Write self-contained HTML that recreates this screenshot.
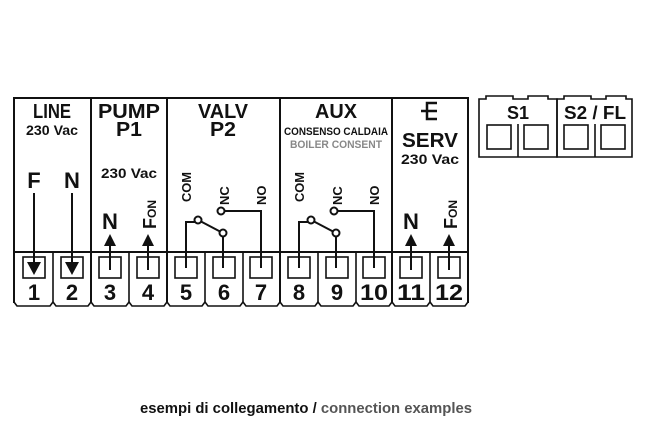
<!DOCTYPE html>
<html><head><meta charset="utf-8"><style>
body{margin:0;background:#fff}
svg{display:block}
text{font-family:"Liberation Sans",Arial,sans-serif;font-weight:bold;fill:#111}
</style></head><body>
<svg width="645" height="428" viewBox="0 0 645 428" xmlns="http://www.w3.org/2000/svg" font-family="Liberation Sans, Arial, sans-serif">
<g stroke="#111" stroke-width="2" fill="none">
<path d="M14,303 V98 H468 V303"/>
<line x1="91" y1="98" x2="91" y2="303"/>
<line x1="167" y1="98" x2="167" y2="303"/>
<line x1="280" y1="98" x2="280" y2="303"/>
<line x1="392" y1="98" x2="392" y2="303"/>
<line x1="14" y1="252" x2="468" y2="252"/>
</g>
<!-- labels -->
<text x="52" y="118" font-size="20" text-anchor="middle" textLength="38" lengthAdjust="spacingAndGlyphs">LINE</text>
<text x="52" y="135" font-size="14" text-anchor="middle" font-weight="normal" textLength="52" lengthAdjust="spacingAndGlyphs">230 Vac</text>
<text x="129" y="118" font-size="20" text-anchor="middle" textLength="62" lengthAdjust="spacingAndGlyphs">PUMP</text>
<text x="129" y="136" font-size="20" text-anchor="middle" textLength="26" lengthAdjust="spacingAndGlyphs">P1</text>
<text x="129" y="178" font-size="14" text-anchor="middle" font-weight="normal" textLength="56" lengthAdjust="spacingAndGlyphs">230 Vac</text>
<text x="223" y="118" font-size="20" text-anchor="middle" textLength="50" lengthAdjust="spacingAndGlyphs">VALV</text>
<text x="223" y="136" font-size="20" text-anchor="middle" textLength="26" lengthAdjust="spacingAndGlyphs">P2</text>
<text x="336" y="118" font-size="20" text-anchor="middle" textLength="42" lengthAdjust="spacingAndGlyphs">AUX</text>
<text x="336" y="135" font-size="11" text-anchor="middle" textLength="104" lengthAdjust="spacingAndGlyphs">CONSENSO CALDAIA</text>
<text x="336" y="148" font-size="11" text-anchor="middle" style="fill:#888" textLength="92" lengthAdjust="spacingAndGlyphs">BOILER CONSENT</text>
<text x="430" y="147" font-size="20" text-anchor="middle" font-weight="normal" textLength="56" lengthAdjust="spacingAndGlyphs">SERV</text>
<text x="430" y="164" font-size="14" text-anchor="middle" font-weight="normal" textLength="58" lengthAdjust="spacingAndGlyphs">230 Vac</text>
<!-- earth -->
<g stroke="#111" stroke-width="2.5" fill="none"><path d="M437,103 H427 V119 H437 M427,111 H437 M421,111 H427"/></g>
<text x="34" y="188" font-size="22" text-anchor="middle">F</text>
<text x="72" y="188" font-size="22" text-anchor="middle">N</text>
<text x="110" y="229" font-size="22" text-anchor="middle">N</text>
<text x="411" y="229" font-size="22" text-anchor="middle">N</text>
<g font-size="18">
<text transform="translate(156,229) rotate(-90)">F<tspan font-size="12">ON</tspan></text>
<text transform="translate(457,229) rotate(-90)">F<tspan font-size="12">ON</tspan></text>
</g>
<g font-size="13" font-weight="normal">
<text transform="translate(191,202) rotate(-90)" textLength="30" lengthAdjust="spacingAndGlyphs">COM</text>
<text transform="translate(229,205) rotate(-90)">NC</text>
<text transform="translate(266,205) rotate(-90)">NO</text>
<text transform="translate(304,202) rotate(-90)" textLength="30" lengthAdjust="spacingAndGlyphs">COM</text>
<text transform="translate(342,205) rotate(-90)">NC</text>
<text transform="translate(379,205) rotate(-90)">NO</text>
</g>
<!-- arrows -->
<g stroke="#111" stroke-width="2">
<line x1="34" y1="193" x2="34" y2="264"/>
<line x1="72" y1="193" x2="72" y2="264"/>
<line x1="110" y1="270" x2="110" y2="240"/>
<line x1="148" y1="270" x2="148" y2="240"/>
<line x1="411" y1="270" x2="411" y2="240"/>
<line x1="449" y1="270" x2="449" y2="240"/>
</g>
<g fill="#111">
<path d="M27,262 H41 L34,275 Z"/>
<path d="M65,262 H79 L72,275 Z"/>
<path d="M104,246 H116 L110,234 Z"/>
<path d="M142,246 H154 L148,234 Z"/>
<path d="M405,246 H417 L411,234 Z"/>
<path d="M443,246 H455 L449,234 Z"/>
</g>
<!-- relays -->
<g stroke="#111" stroke-width="2" fill="none">
<g id="r1">
<path d="M186,268 V222 H195"/>
<line x1="201" y1="221.5" x2="220" y2="231.5"/>
<path d="M223,236 V268"/>
<path d="M224,211 H261 V268"/>
<circle cx="198" cy="220" r="3.5" fill="#fff"/>
<circle cx="223" cy="233" r="3.5" fill="#fff"/>
<circle cx="221" cy="211" r="3.5" fill="#fff"/>
</g>
<use href="#r1" transform="translate(113,0)"/>
</g>
<!-- terminal cells -->
<g stroke="#111" stroke-width="1.6" fill="none">
<path d="M14,302 L17,306 H50 L53,302 L56,306 H88 L91,302 L94,306 H126 L129,302 L132,306 H164 L167,302 L170,306 H202 L205,302 L208,306 H240 L243,302 L246,306 H277 L280,302 L283,306 H315 L318,302 L321,306 H353 L356,302 L359,306 H389 L392,302 L395,306 H427 L430,302 L433,306 H465 L468,302"/>
<path d="M53,252 V302 M129,252 V302 M205,252 V302 M243,252 V302 M318,252 V302 M356,252 V302 M430,252 V302"/>
<rect x="23" y="257" width="22" height="21"/>
<rect x="61" y="257" width="22" height="21"/>
<rect x="99" y="257" width="22" height="21"/>
<rect x="137" y="257" width="22" height="21"/>
<rect x="175" y="257" width="22" height="21"/>
<rect x="213" y="257" width="22" height="21"/>
<rect x="250" y="257" width="22" height="21"/>
<rect x="288" y="257" width="22" height="21"/>
<rect x="326" y="257" width="22" height="21"/>
<rect x="363" y="257" width="22" height="21"/>
<rect x="400" y="257" width="22" height="21"/>
<rect x="438" y="257" width="22" height="21"/>
</g>
<g font-size="22" text-anchor="middle">
<text x="34" y="300">1</text><text x="72" y="300">2</text><text x="110" y="300">3</text><text x="148" y="300">4</text>
<text x="186" y="300">5</text><text x="224" y="300">6</text><text x="261" y="300">7</text><text x="299" y="300">8</text>
<text x="337" y="300">9</text><text x="374" y="300" textLength="28" lengthAdjust="spacingAndGlyphs">10</text>
<text x="411" y="300" textLength="28" lengthAdjust="spacingAndGlyphs">11</text><text x="449" y="300" textLength="28" lengthAdjust="spacingAndGlyphs">12</text>
</g>
<!-- S1 S2 box -->
<g stroke="#111" stroke-width="1.6" fill="none">
<path d="M479,157 V99 H486 V96 H513 V99 H528 V96 H548 V99 H557 V157 Z"/>
<path d="M557,157 V99 H564 V96 H591 V99 H606 V96 H626 V99 H632 V157 Z"/>
<line x1="518" y1="124" x2="518" y2="157"/>
<line x1="595" y1="124" x2="595" y2="157"/>
<rect x="487" y="125" width="24" height="24"/>
<rect x="524" y="125" width="24" height="24"/>
<rect x="564" y="125" width="24" height="24"/>
<rect x="601" y="125" width="24" height="24"/>
</g>
<text x="518" y="119" font-size="18" text-anchor="middle" font-weight="normal">S1</text>
<text x="595" y="119" font-size="18" text-anchor="middle" font-weight="normal" textLength="62" lengthAdjust="spacingAndGlyphs">S2 / FL</text>
<!-- caption -->
<text x="140" y="413" font-size="15" font-weight="normal" textLength="332" lengthAdjust="spacingAndGlyphs">esempi di collegamento / <tspan style="fill:#555">connection examples</tspan></text>
</svg>
</body></html>
